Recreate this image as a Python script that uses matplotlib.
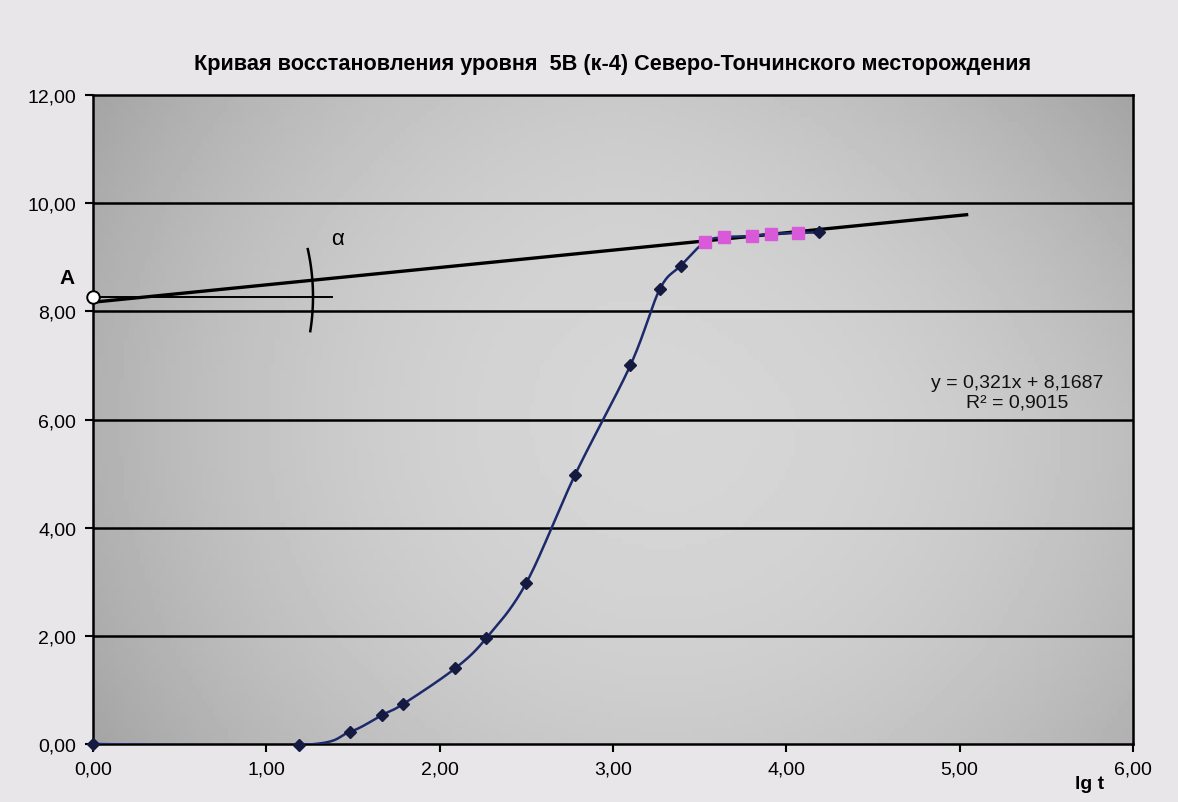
"""Кривая восстановления уровня 5В (к-4)"""

import numpy as np
import matplotlib.pyplot as plt
from matplotlib.ticker import FuncFormatter, MultipleLocator

# Data
lgt = [0.00, 1.19, 1.48, 1.67, 1.79, 2.09, 2.27, 2.50, 2.78, 3.10, 3.27, 3.39,
       3.53, 3.64, 3.80, 3.91, 4.07, 4.19]
level = [0.00, -0.02, 0.22, 0.54, 0.74, 1.40, 1.96, 2.98, 4.97, 7.00, 8.41, 8.84,
         9.28, 9.37, 9.39, 9.43, 9.45, 9.46]
fit_x = [3.53, 3.64, 3.80, 3.91, 4.07]
fit_y = [9.28, 9.37, 9.39, 9.43, 9.45]
slope, intercept = 0.321, 8.1687
trend_end = 5.04
a_level = 8.27


def smooth(x, y, n=30):
    # Excel-style smoothed line (Catmull-Rom through the points)
    x = np.asarray(x, float)
    y = np.asarray(y, float)
    px = np.concatenate([[x[0]], x, [x[-1]]])
    py = np.concatenate([[y[0]], y, [y[-1]]])
    xs, ys = [], []
    t = np.linspace(0, 1, n)
    for i in range(1, len(px) - 2):
        p0, p1, p2, p3 = [np.array([px[j], py[j]]) for j in range(i - 1, i + 3)]
        c1 = p1 + (p2 - p0) / 6
        c2 = p2 - (p3 - p1) / 6
        seg = ((1 - t) ** 3)[:, None] * p1 + (3 * (1 - t) ** 2 * t)[:, None] * c1 \
            + (3 * (1 - t) * t ** 2)[:, None] * c2 + (t ** 3)[:, None] * p2
        xs.extend(seg[:, 0])
        ys.extend(seg[:, 1])
    return np.array(xs), np.array(ys)


plt.rcParams['font.family'] = ['Liberation Sans', 'DejaVu Sans']

fig = plt.figure(figsize=(11.78, 8.03), dpi=100, facecolor='#e8e6e8')
ax = fig.add_axes([93 / 1178, 1 - 745 / 803, 1040 / 1178, 649 / 803])
ax.set_xlim(0, 6)
ax.set_ylim(0, 12)

# Gray gradient background of the plot area
gx = np.linspace(-1, 1, 200)
gy = np.linspace(-1, 1, 120)
GX, GY = np.meshgrid(gx, gy)
shade = 0.84 - 0.12 * (GX - 0.1) ** 2 - 0.05 * GY ** 2 - 0.05 * np.clip(GX, 0, 1) * np.clip(-GY, 0, 1)
ax.imshow(shade, cmap='gray', vmin=0, vmax=1, extent=[0, 1, 0, 1],
          transform=ax.transAxes, aspect='auto', zorder=0)

for yv in range(2, 12, 2):
    ax.axhline(yv, color='black', lw=1.8, zorder=1)

# Measured curve
sx, sy = smooth(lgt, level)
ax.plot(sx, sy, color='#1c2a6b', lw=1.8, zorder=3, clip_on=True)
ax.plot(lgt, level, linestyle='none', marker='D', ms=6, color='#141a40', zorder=4, clip_on=False)
ax.plot(fit_x, fit_y, linestyle='none', marker='s', ms=8, color='#d95ad9', zorder=5)

# Trend line and construction
tx = np.array([0, trend_end])
ax.plot(tx, slope * tx + intercept, color='black', lw=2.4, zorder=2)
ax.plot([0, 1.376], [a_level, a_level], color='black', lw=1.4, zorder=2)

px_x = 1040 / 6
px_y = 649 / 12
th = np.radians(np.linspace(-9, 12.5, 50))
ax.plot(220 * np.cos(th) / px_x, a_level + 220 * np.sin(th) / px_y,
        color='black', lw=1.8, zorder=2)
ax.plot([0], [a_level], marker='o', ms=9, mfc='white', mec='black', mew=1.4,
        zorder=6, clip_on=False)

ax.text(1.41, 9.35, 'α', fontsize=16, ha='center', va='center')
ax.text(-0.15, 8.62, 'A', fontsize=15, ha='center', va='center', fontweight='bold')
ax.text(5.33, 6.5, 'y = 0,321x + 8,1687\nR² = 0,9015', fontsize=14,
        ha='center', va='center', linespacing=1.15, color='#111111')

ax.set_title('Кривая восстановления уровня  5В (к-4) Северо-Тончинского месторождения',
             fontsize=15.6, fontweight='bold', pad=19)
fig.text(1090 / 1178, 1 - 785 / 803, 'lg t', fontsize=14, fontweight='bold',
         ha='center', va='center')

fmt = FuncFormatter(lambda v, p: f'{v:.2f}'.replace('.', ','))
ax.xaxis.set_major_locator(MultipleLocator(1))
ax.yaxis.set_major_locator(MultipleLocator(2))
ax.xaxis.set_major_formatter(fmt)
ax.yaxis.set_major_formatter(fmt)
ax.tick_params(direction='out', length=6, width=1.5, labelsize=14, pad=6)
for s in ax.spines.values():
    s.set_linewidth(1.8)

fig.savefig('out.png', dpi=100, facecolor=fig.get_facecolor())
